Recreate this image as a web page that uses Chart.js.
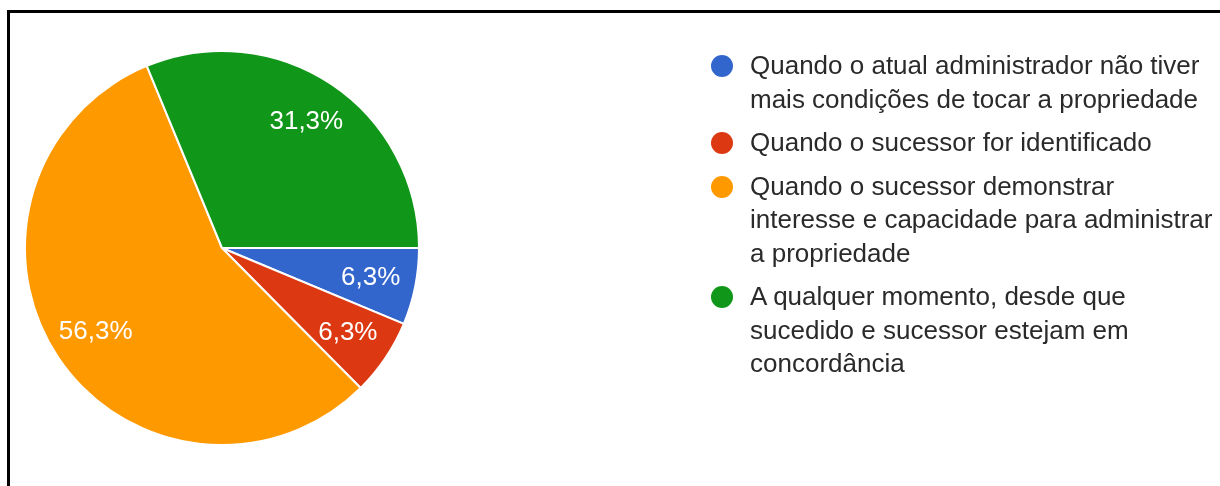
<!DOCTYPE html>
<html lang="pt-BR">
<head>
<meta charset="utf-8">
<title>Momento da sucessão</title>
<script src="https://cdn.jsdelivr.net/npm/chart.js@4/dist/chart.umd.min.js"></script>
<style>
  html, body { margin: 0; padding: 0; background: #fff; }
  #wrap { position: relative; width: 1220px; height: 486px; overflow: hidden; }
  #frame {
    position: absolute; left: 7px; top: 10px; width: 1240px; height: 500px;
    border-top: 3px solid #000; border-left: 3px solid #000; box-sizing: border-box;
  }
  #grafico { position: absolute; left: 0; top: 0; }
  #legenda {
    position: absolute; left: 711px; top: 49px; margin: 0; padding: 0; list-style: none;
    font-family: "Liberation Sans", Arial, sans-serif; font-size: 26px; color: #2a2a2a;
    line-height: 33.5px;
  }
  #legenda li { position: relative; padding-left: 39px; margin-bottom: 10px; }
  #legenda .bola {
    position: absolute; left: 0; top: 6px; width: 22px; height: 22px; border-radius: 50%;
  }
</style>
</head>
<body>
<div id="wrap">
  <div id="frame"></div>
  <canvas id="grafico" width="1220" height="486"></canvas>
  <ul id="legenda"></ul>
</div>
<script>
// categorias (cada linha é uma quebra no texto da legenda)
const categorias = [
  ['Quando o atual administrador não tiver', 'mais condições de tocar a propriedade'],
  ['Quando o sucessor for identificado'],
  ['Quando o sucessor demonstrar', 'interesse e capacidade para administrar', 'a propriedade'],
  ['A qualquer momento, desde que', 'sucedido e sucessor estejam em', 'concordância']
];
// percentuais de respostas
const percentuais = [6.3, 6.3, 56.3, 31.3];
const cores = ['#3366cc', '#dc3912', '#ff9900', '#109618'];

// rótulos de porcentagem dentro de cada fatia
const rotulosFatias = {
  id: 'rotulosFatias',
  afterDatasetsDraw(chart) {
    const ctx = chart.ctx;
    const meta = chart.getDatasetMeta(0);
    ctx.save();
    ctx.fillStyle = '#ffffff';
    ctx.font = '26px "Liberation Sans", Arial, sans-serif';
    ctx.textAlign = 'center';
    ctx.textBaseline = 'middle';
    meta.data.forEach((arc, i) => {
      const p = arc.getProps(['x', 'y', 'startAngle', 'endAngle', 'outerRadius'], true);
      const meio = (p.startAngle + p.endAngle) / 2;
      const r = p.outerRadius * 0.77;
      const txt = percentuais[i].toFixed(1).replace('.', ',') + '%';
      ctx.fillText(txt, p.x + Math.cos(meio) * r, p.y + Math.sin(meio) * r);
    });
    ctx.restore();
  }
};

const grafico = new Chart(document.getElementById('grafico'), {
  type: 'pie',
  data: {
    labels: categorias,
    datasets: [{
      data: percentuais,
      backgroundColor: cores,
      borderColor: '#ffffff',
      borderWidth: 2
    }]
  },
  options: {
    responsive: false,
    animation: false,
    rotation: 90, // começa às 3 horas
    layout: { padding: { left: 24, top: 50, right: 800, bottom: 40 } },
    plugins: {
      legend: { display: false },
      tooltip: { enabled: false }
    }
  },
  plugins: [rotulosFatias]
});

// legenda em HTML com as mesmas cores do gráfico
const ul = document.getElementById('legenda');
categorias.forEach((linhas, i) => {
  const li = document.createElement('li');
  const bola = document.createElement('span');
  bola.className = 'bola';
  bola.style.background = cores[i];
  li.appendChild(bola);
  linhas.forEach((l, j) => {
    if (j > 0) li.appendChild(document.createElement('br'));
    li.appendChild(document.createTextNode(l));
  });
  ul.appendChild(li);
});
</script>
</body>
</html>
